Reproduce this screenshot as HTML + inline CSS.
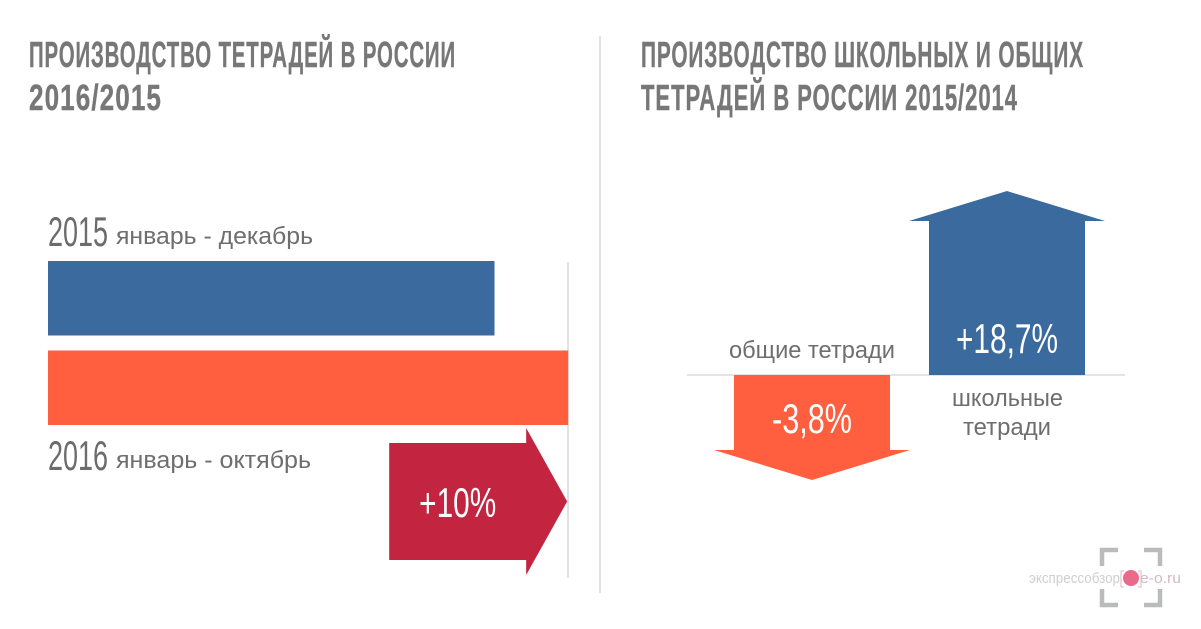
<!DOCTYPE html>
<html lang="ru">
<head>
<meta charset="utf-8">
<title>Производство тетрадей в России</title>
<style>
html,body{margin:0;padding:0;background:#fff;}
svg{display:block;}
text{font-family:"Liberation Sans","DejaVu Sans",sans-serif;}
.head{font-size:36px;font-weight:bold;fill:#777;stroke:#777;stroke-width:0.4px;letter-spacing:1.5px;}
.year{font-size:42px;fill:#6c6c6c;}
.lab{font-size:24px;fill:#6e6e6e;}
.val{font-size:42px;fill:#fff;}
</style>
</head>
<body>
<svg id="chart" xmlns="http://www.w3.org/2000/svg" width="1201" height="629" viewBox="0 0 1201 629">
  <rect width="1201" height="629" fill="#fff"/>
  <text class="head" x="29" y="67" textLength="427" lengthAdjust="spacingAndGlyphs">ПРОИЗВОДСТВО ТЕТРАДЕЙ В РОССИИ</text>
  <text class="head" x="29" y="110" textLength="133" lengthAdjust="spacingAndGlyphs">2016/2015</text>
  <text class="head" x="641" y="67" textLength="443" lengthAdjust="spacingAndGlyphs">ПРОИЗВОДСТВО ШКОЛЬНЫХ И ОБЩИХ</text>
  <text class="head" x="641" y="110" textLength="377" lengthAdjust="spacingAndGlyphs">ТЕТРАДЕЙ В РОССИИ 2015/2014</text>
  <rect x="599" y="36" width="2" height="557" fill="#e2e2e2"/>
  <rect x="567" y="262" width="2" height="316" fill="#e2e2e2"/>
  <rect x="687" y="374" width="438" height="2" fill="#e4e4e4"/>
  <text class="year" x="48" y="246" textLength="60" lengthAdjust="spacingAndGlyphs">2015</text>
  <text class="lab" x="116" y="244" textLength="197" lengthAdjust="spacingAndGlyphs">январь - декабрь</text>
  <text class="year" x="48" y="470" textLength="60" lengthAdjust="spacingAndGlyphs">2016</text>
  <text class="lab" x="116" y="468" textLength="195" lengthAdjust="spacingAndGlyphs">январь - октябрь</text>
  <g id="left-chart"></g>
  <g id="right-chart"></g>
  <text class="lab" x="729" y="358" textLength="166" lengthAdjust="spacingAndGlyphs">общие тетради</text>
  <text class="lab" x="952" y="406" textLength="111" lengthAdjust="spacingAndGlyphs">школьные</text>
  <text class="lab" x="963" y="435" textLength="88" lengthAdjust="spacingAndGlyphs">тетради</text>
  <g>
    <path d="M1118 550h-16v16M1144 550h16v16M1118 605h-16v-16M1144 605h16v-16" fill="none" stroke="#b9bbbd" stroke-width="4.5"/>
    <text x="1029" y="583" font-size="15" fill="#cfcfcf" textLength="91" lengthAdjust="spacingAndGlyphs">экспрессобзор</text>
    <path d="M1124 571h-3v16h3M1138 571h3v16h-3" fill="none" stroke="#d9b9c2" stroke-width="1"/>
    <circle cx="1131" cy="578" r="8" fill="#e96a8a"/>
    <text x="1140" y="583" font-size="15" fill="#d3b9c2" textLength="41" lengthAdjust="spacingAndGlyphs">e-o.ru</text>
  </g>
</svg>
<script>
var barCategories = ['2015', '2016'];
var barValues = [100, 116.5];
var growthLabel = '+10%';
var changeCategories = ['general', 'school'];
var changeValues = [-3.8, 18.7];
var changeLabels = ['-3,8%', '+18,7%'];

var NS = 'http://www.w3.org/2000/svg';
var BLUE = '#3b6a9e', ORANGE = '#ff5f3f', RED = '#c32540';

function xScale(v) { return 48 + v * 4.465; }
function barTop(i) { return 261 + i * 89.5; }
function arrowLength(v) { return 84.85 + 5.302 * Math.abs(v); }

function make(tag, attrs, parent) {
  var el = document.createElementNS(NS, tag);
  for (var k in attrs) { el.setAttribute(k, attrs[k]); }
  parent.appendChild(el);
  return el;
}
function valueText(parent, str, x, y, width) {
  var t = make('text', { 'class': 'val', x: x, y: y, textLength: width, lengthAdjust: 'spacingAndGlyphs' }, parent);
  t.textContent = str;
  
  
  return t;
}

var left = document.getElementById('left-chart');
barValues.forEach(function (v, i) {
  var r = make('rect', { x: 48, y: barTop(i), width: xScale(v) - 48, height: 74.5, fill: i === 0 ? BLUE : ORANGE }, left);
  
  
});

var tip = xScale(barValues[1]) - 1;
var growth = make('path', {
  d: 'M' + (tip - 178) + ' 443H' + (tip - 41) + 'V428L' + tip + ' 501.5L' + (tip - 41) + ' 575V560H' + (tip - 178) + 'Z',
  fill: RED
}, left);


valueText(left, growthLabel, tip - 148, 517, 77);

var right = document.getElementById('right-chart');
var BASE = 375;
changeValues.forEach(function (v, i) {
  var up = v > 0;
  var cx = up ? 1007 : 812;
  var dir = up ? -1 : 1;
  var len = arrowLength(v);
  var neck = BASE + dir * (len - 30);
  var apex = BASE + dir * len;
  var d = 'M' + (cx - 78) + ' ' + BASE + 'V' + neck + 'H' + (cx - 98) + 'L' + cx + ' ' + apex +
          'L' + (cx + 98) + ' ' + neck + 'H' + (cx + 78) + 'V' + BASE + 'Z';
  var a = make('path', { d: d, fill: up ? BLUE : ORANGE }, right);
  
  
  if (up) { valueText(right, changeLabels[i], 956, 353, 102); }
  else { valueText(right, changeLabels[i], 772, 433, 80); }
});
</script>
</body>
</html>
